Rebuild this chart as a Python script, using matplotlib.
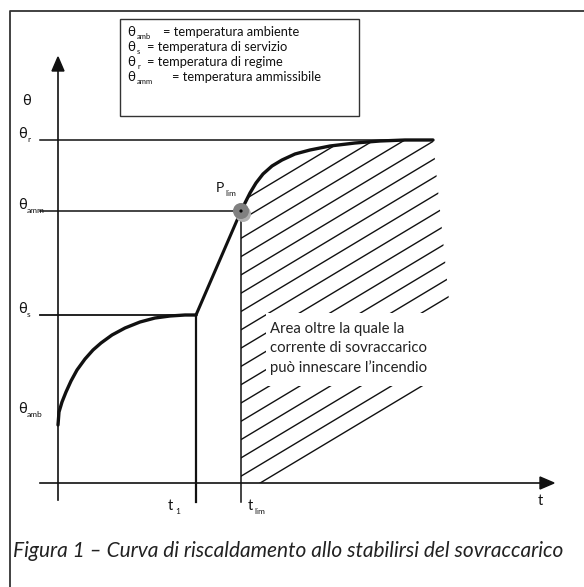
import matplotlib
matplotlib.use("Agg")
import matplotlib.pyplot as plt
from matplotlib.patches import Polygon, Rectangle, Circle
import numpy as np

FAM = ['Lato', 'DejaVu Sans']

# Heating curve (diagram coordinates, pixel-like units, y downward)
curve1_x = [58, 59, 62, 66, 71, 77, 85, 93, 101, 112, 125, 140, 155, 170, 185, 196]
curve1_y = [425, 412, 402, 392, 381, 370, 359, 350, 343, 335, 328, 322, 318, 316, 315, 315]
ramp_x = [196, 241]
ramp_y = [315, 211]
curve2_x = [241, 245, 250, 256, 263, 272, 282, 295, 310, 330, 355, 380, 405, 433]
curve2_y = [211, 203, 193, 183, 174, 166, 160, 154, 150, 146, 143, 141, 140, 140]

# Reference levels
levels = {'r': 140, 'amm': 211, 's': 315, 'amb': 425}
t1_x = 196
tlim_x = 241
axis_x = 58
axis_y = 483

legend_lines = [("amb", "= temperatura ambiente"),
                ("s", "= temperatura di servizio"),
                ("r", "= temperatura di regime"),
                ("amm", "= temperatura ammissibile")]
area_lines = ["Area oltre la quale la",
              "corrente di sovraccarico",
              "può innescare l\u2019incendio"]
caption = "Figura 1 \u2013 Curva di riscaldamento allo stabilirsi del sovraccarico"

fig = plt.figure(figsize=(5.84, 5.87), dpi=100)
ax = fig.add_axes([0, 0, 1, 1])
ax.set_xlim(0, 584)
ax.set_ylim(587, 0)
ax.axis('off')

K = '#111111'
# outer frame (left & top)
ax.plot([9.5, 9.5, 584], [587, 10.5, 10.5], color='#333333', lw=1.3)

# legend box
ax.add_patch(Rectangle((120, 19), 239, 97, fill=False, ec='#333333', lw=1.0))
leg_rest_x = {"amb": 163, "s": 147, "r": 147, "amm": 172}
for i, (sub, rest) in enumerate(legend_lines):
    yb = 36 + 15 * i
    ax.text(127, yb, "\u03b8", family=FAM, fontsize=9.5, va='baseline', ha='left', color=K)
    ax.text(137, yb + 3, sub, family=FAM, fontsize=5.5, va='baseline', ha='left', color=K)
    ax.text(leg_rest_x[sub], yb, rest, family=FAM, fontsize=9.3, va='baseline', ha='left', color=K)

# hatch area
poly_x = curve2_x + [449, 449, 372, tlim_x]
poly_y = curve2_y + [300, 425, axis_y, axis_y]
clip = Polygon(np.column_stack([poly_x, poly_y]), closed=True, fc='none', ec='none')
ax.add_patch(clip)
slope = 0.6
for k in range(-3, 16):
    c = 220 + 18.3 * k
    xs = np.array([tlim_x, 470])
    ys = c - slope * (xs - tlim_x)
    ln, = ax.plot(xs, ys, color=K, lw=1.0)
    ln.set_clip_path(clip)

# white text box
ax.add_patch(Rectangle((266, 313), 186, 73, fc='white', ec='none', zorder=3))
for i, s in enumerate(area_lines):
    ax.text(270, 333 + 19.5 * i, s, family=FAM, fontsize=10.7, va='baseline', ha='left', color='#222222', zorder=4)

# level lines
ax.plot([40, 433], [levels['r']] * 2, color=K, lw=1.1)
ax.plot([40, tlim_x], [levels['amm']] * 2, color=K, lw=1.1)
ax.plot([40, t1_x], [levels['s']] * 2, color=K, lw=1.3)

# axes
ax.plot([axis_x, axis_x], [68, 500], color=K, lw=1.2)
ax.add_patch(Polygon([[axis_x, 57], [axis_x - 6, 71], [axis_x + 6, 71]], closed=True, fc=K, ec=K))
ax.plot([40, 542], [axis_y, axis_y], color=K, lw=1.2)
ax.add_patch(Polygon([[554, axis_y], [540, axis_y - 6], [540, axis_y + 6]], closed=True, fc=K, ec=K))

# vertical lines
ax.plot([t1_x, t1_x], [315, 502], color=K, lw=1.6)
ax.plot([tlim_x, tlim_x], [211, 502], color=K, lw=1.1)

# curve
ax.plot(curve1_x, curve1_y, color=K, lw=2.4, solid_capstyle='round')
ax.plot(ramp_x, ramp_y, color=K, lw=2.2)
ax.plot(curve2_x, curve2_y, color=K, lw=2.4, solid_capstyle='round')

# point P_lim
ax.add_patch(Circle((243, 214), 8, fc='#b0b0b0', ec='none', zorder=5))
ax.add_patch(Circle((241, 211), 8, fc='#808080', ec='none', zorder=6))
ax.add_patch(Circle((241, 211), 1.6, fc='black', ec='none', zorder=7))
ax.text(216, 192, "P", family=FAM, fontsize=10, va='baseline', color=K)
ax.text(225, 196, "lim", family=FAM, fontsize=6, va='baseline', color=K)

# y labels
ax.text(22, 105, "\u03b8", family=FAM, fontsize=10.5, va='baseline', color=K)
ylab = [("r", levels['r']), ("amm", levels['amm']), ("s", levels['s']), ("amb", 415)]
for sub, y in ylab:
    ax.text(18, y - 2, "\u03b8", family=FAM, fontsize=10.5, va='baseline', color=K)
    ax.text(27, y + 2, sub, family=FAM, fontsize=6, va='baseline', color=K)

# x labels
ax.text(168, 510, "t", family=FAM, fontsize=10.5, va='baseline', color=K)
ax.text(175, 514, "1", family=FAM, fontsize=6, va='baseline', color=K)
ax.text(248, 510, "t", family=FAM, fontsize=10.5, va='baseline', color=K)
ax.text(254, 514, "lim", family=FAM, fontsize=6, va='baseline', color=K)
ax.text(538, 505, "t", family=FAM, fontsize=10.5, va='baseline', color=K)

# caption
ax.text(13, 557, caption, family=FAM, fontsize=15, style='italic', va='baseline', ha='left', color='#222222')

fig.savefig("out.png", dpi=100)
